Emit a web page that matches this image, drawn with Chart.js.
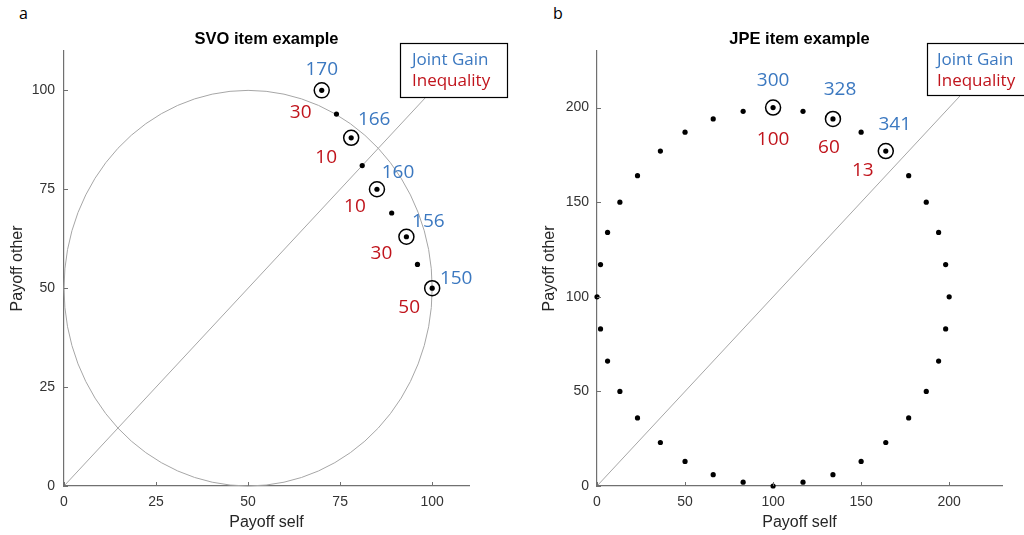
<!DOCTYPE html>
<html>
<head>
<meta charset="utf-8">
<script src="https://cdn.jsdelivr.net/npm/chart.js@4.4.1/dist/chart.umd.min.js"></script>
<style>
  body { margin: 0; background: #fff; }
  #wrap { position: relative; width: 1024px; height: 535px; overflow: hidden; }
  .panel { position: absolute; top: 0; width: 512px; height: 535px; }
  .letter { position: absolute; font: 16px 'Open Sans', sans-serif; color: #000; }
</style>
</head>
<body>
<div id="wrap">
  <div class="letter" style="left:19px; top:2px;">a</div>
  <div class="letter" style="left:553px; top:2px;">b</div>
  <div class="panel" style="left:0"><canvas id="svoChart" width="512" height="535"></canvas></div>
  <div class="panel" style="left:512px"><canvas id="jpeChart" width="512" height="535"></canvas></div>
</div>
<script>
// SVO slider item: all 9 options, and the 5 marked ones
const svoSelf  = [100, 96, 93, 89, 85, 81, 78, 74, 70];
const svoOther = [50, 56, 63, 69, 75, 81, 88, 94, 100];
const svoMarkSelf  = [70, 78, 85, 93, 100];
const svoMarkOther = [100, 88, 75, 63, 50];
const svoJointGain  = ['170', '166', '160', '156', '150'];
const svoInequality = ['30', '10', '10', '30', '50'];
const svoTicks = [0, 25, 50, 75, 100];
const svoMax = 110;
const svoCircleCenter = [50, 50];
const svoCircleRadius = 50;

// JPE item: options around the circle, and the 3 marked ones
const jpeSelf  = [100, 117, 134, 150, 164, 177, 187, 194, 198, 200, 198, 194, 187, 177, 164, 150, 134, 117,
                  100, 83, 66, 50, 36, 23, 13, 6, 2, 0, 2, 6, 13, 23, 36, 50, 66, 83];
const jpeOther = [0, 2, 6, 13, 23, 36, 50, 66, 83, 100, 117, 134, 150, 164, 177, 187, 194, 198,
                  200, 198, 194, 187, 177, 164, 150, 134, 117, 100, 83, 66, 50, 36, 23, 13, 6, 2];
const jpeMarkSelf  = [100, 134, 164];
const jpeMarkOther = [200, 194, 177];
const jpeJointGain  = ['300', '328', '341'];
const jpeInequality = ['100', '60', '13'];
const jpeTicks = [0, 50, 100, 150, 200];
const jpeMax = 230;

const BLUE = '#3b78c0';
const RED = '#c0141c';
const AXIS = '#707070';
const THIN = '#a6a6a6';

function pts(xs, ys) { return xs.map((x, i) => ({ x: x, y: ys[i] })); }

// circle outline drawn through the scales
const circlePlugin = {
  id: 'circle',
  beforeDatasetsDraw(chart, args, opts) {
    if (!opts.radius) return;
    const { ctx, scales: { x, y } } = chart;
    const cx = x.getPixelForValue(opts.center[0]);
    const cy = y.getPixelForValue(opts.center[1]);
    const rx = x.getPixelForValue(opts.center[0] + opts.radius) - cx;
    const ry = cy - y.getPixelForValue(opts.center[1] + opts.radius);
    ctx.save();
    ctx.beginPath();
    ctx.ellipse(cx, cy, rx, ry, 0, 0, Math.PI * 2);
    ctx.strokeStyle = THIN;
    ctx.lineWidth = 1;
    ctx.stroke();
    ctx.restore();
  }
};

// inward tick marks like matlab
const inTicksPlugin = {
  id: 'inTicks',
  afterDraw(chart) {
    const { ctx, scales: { x, y } } = chart;
    ctx.save();
    ctx.strokeStyle = AXIS;
    ctx.lineWidth = 1;
    ctx.beginPath();
    x.ticks.forEach(t => {
      const px = Math.round(x.getPixelForValue(t.value)) + 0.5;
      ctx.moveTo(px, y.bottom); ctx.lineTo(px, y.bottom - 4);
    });
    y.ticks.forEach(t => {
      const py = Math.round(y.getPixelForValue(t.value)) + 0.5;
      ctx.moveTo(x.left, py); ctx.lineTo(x.left + 4, py);
    });
    ctx.stroke();
    ctx.restore();
  }
};

// joint gain / inequality numbers next to the marked options, plus the key box
const annotPlugin = {
  id: 'annot',
  afterDatasetsDraw(chart, args, o) {
    const { ctx, scales: { x, y }, chartArea } = chart;
    ctx.save();
    ctx.font = '19px "Open Sans", sans-serif';
    ctx.textAlign = 'center';
    ctx.textBaseline = 'middle';
    o.xs.forEach((v, i) => {
      const px = x.getPixelForValue(v), py = y.getPixelForValue(o.ys[i]);
      ctx.fillStyle = BLUE;
      ctx.fillText(o.gain[i], px + o.gainOff[i][0], py + o.gainOff[i][1]);
      ctx.fillStyle = RED;
      ctx.fillText(o.ineq[i], px + o.ineqOff[i][0], py + o.ineqOff[i][1]);
    });
    // key
    const bx = chartArea.right + o.box[0], by = o.box[1];
    ctx.fillStyle = '#fff';
    ctx.fillRect(bx, by, o.box[2], o.box[3]);
    ctx.strokeStyle = '#000';
    ctx.lineWidth = 1.2;
    ctx.strokeRect(bx + 0.5, by + 0.5, o.box[2], o.box[3]);
    ctx.font = '17px "Open Sans", sans-serif';
    ctx.textAlign = 'left';
    ctx.fillStyle = BLUE;
    ctx.fillText('Joint Gain', bx + o.box[4], by + 17);
    ctx.fillStyle = RED;
    ctx.fillText('Inequality', bx + o.box[4], by + 38);
    ctx.restore();
  }
};

function makeChart(id, cfg) {
  const axisFont = { family: '"Liberation Sans", Arial, sans-serif', size: 14 };
  const titleFont = { family: '"Liberation Sans", Arial, sans-serif', size: 16 };
  const scaleBase = (max, ticks) => ({
    type: 'linear', min: 0, max: max,
    afterBuildTicks: s => { s.ticks = ticks.map(v => ({ value: v })); },
    grid: { display: false, drawTicks: false },
    border: { display: true, color: AXIS, width: 1.2 },
  });
  return new Chart(document.getElementById(id), {
    data: {
      datasets: [
        { type: 'line', data: [{ x: 0, y: 0 }, { x: cfg.max, y: cfg.max }], borderColor: THIN, borderWidth: 1,
          pointRadius: 0, fill: false, order: 3 },
        { type: 'scatter', data: pts(cfg.self, cfg.other), pointRadius: 2.6, pointBackgroundColor: '#000',
          pointBorderWidth: 0, clip: false, order: 2 },
        { type: 'scatter', data: pts(cfg.markSelf, cfg.markOther), pointRadius: 7.5, clip: false,
          pointBackgroundColor: 'rgba(0,0,0,0)', pointBorderColor: '#000', pointBorderWidth: 1.5, order: 1 }
      ]
    },
    options: {
      responsive: false,
      animation: false,
      events: [],
      layout: { padding: cfg.padding },
      plugins: {
        legend: { display: false },
        tooltip: { enabled: false },
        title: { display: true, text: cfg.title, fullSize: false, color: '#000',
                 font: { family: 'Arial, "Liberation Sans", sans-serif', size: 16.5, weight: 'bold' },
                 padding: { top: 30, bottom: 1 } },
        circle: { center: cfg.circleCenter, radius: cfg.circleRadius },
        annot: { xs: cfg.markSelf, ys: cfg.markOther, gain: cfg.gain, ineq: cfg.ineq,
                 gainOff: cfg.gainOff, ineqOff: cfg.ineqOff, box: cfg.box }
      },
      scales: {
        x: Object.assign(scaleBase(cfg.max, cfg.xTicks), {
          ticks: { padding: 8, color: '#333', font: axisFont },
          title: { display: true, text: 'Payoff self', color: '#262626', font: titleFont, padding: { top: 0, bottom: 3 } },
          afterFit: s => { s.height = 49; }
        }),
        y: Object.assign(scaleBase(cfg.max, cfg.yTicks), {
          ticks: { padding: cfg.yPad, color: '#333', font: axisFont },
          title: { display: true, text: 'Payoff other', color: '#262626', font: titleFont, padding: { top: 4, bottom: 0 } },
          afterFit: s => { s.width = cfg.yWidth; }
        })
      }
    },
    plugins: [circlePlugin, inTicksPlugin, annotPlugin]
  });
}

makeChart('svoChart', {
  title: 'SVO item example', max: svoMax, xTicks: svoTicks, yTicks: svoTicks,
  self: svoSelf, other: svoOther, markSelf: svoMarkSelf, markOther: svoMarkOther,
  gain: svoJointGain, ineq: svoInequality,
  gainOff: [[0, -21], [23, -18], [21, -17], [22, -15], [24, -10]],
  ineqOff: [[-21, 22], [-25, 20], [-22, 17], [-25, 17], [-23, 19]],
  circleCenter: svoCircleCenter, circleRadius: svoCircleRadius,
  padding: { left: 4, right: 43, top: 0, bottom: 0 }, yWidth: 60, yPad: 9,
  box: [-69, 43, 107, 54, 12]
});

makeChart('jpeChart', {
  title: 'JPE item example', max: jpeMax, xTicks: jpeTicks, yTicks: jpeTicks,
  self: jpeSelf, other: jpeOther, markSelf: jpeMarkSelf, markOther: jpeMarkOther,
  gain: jpeJointGain, ineq: jpeInequality,
  gainOff: [[0, -27], [7, -29], [9, -26]],
  ineqOff: [[0, 32], [-4, 29], [-23, 20]],
  circleCenter: null, circleRadius: 0,
  padding: { left: 24, right: 22, top: 0, bottom: 0 }, yWidth: 61, yPad: 8,
  box: [-75, 43, 107, 52, 10]
});
</script>
</body>
</html>
